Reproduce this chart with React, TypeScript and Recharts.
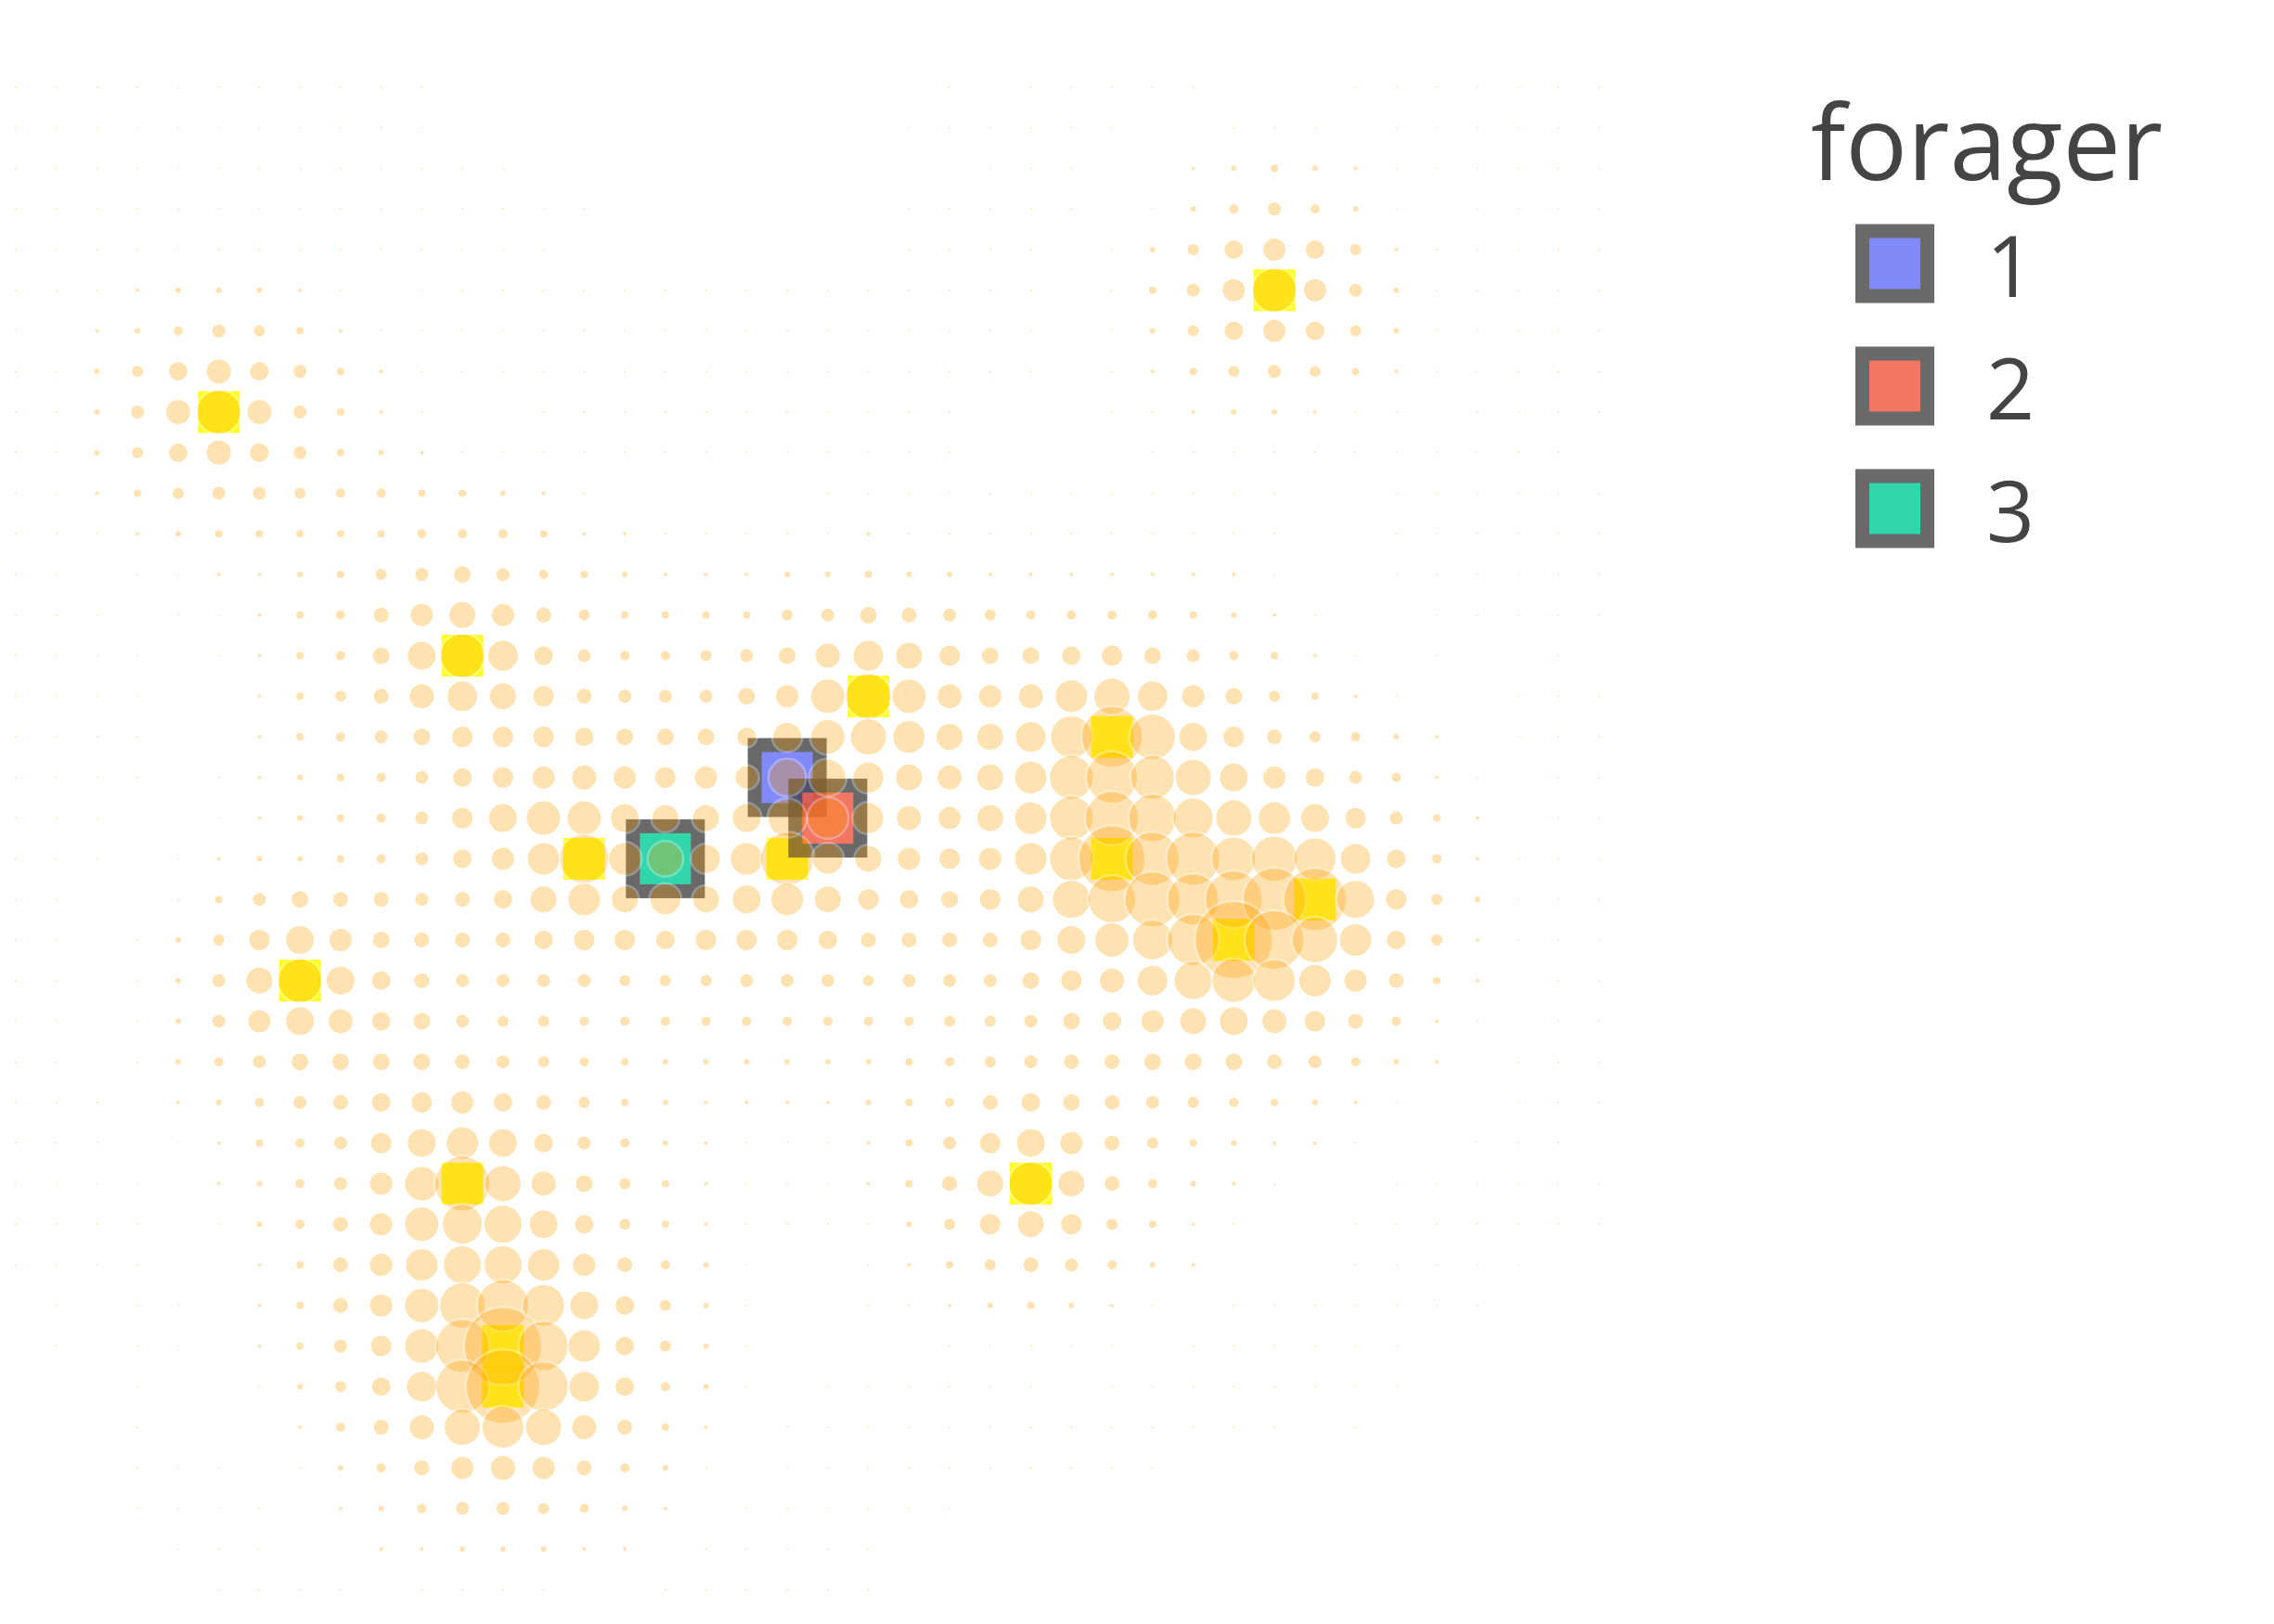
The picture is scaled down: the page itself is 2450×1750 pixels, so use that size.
import React from 'react';
import { ScatterChart, Scatter, XAxis, YAxis, Legend } from 'recharts';

// resource level of every grid cell: one string per grid row (top to bottom),
// one character per column (0-9, a-z, A-J), spaces only for readability
const LEVEL_DIGITS = '0123456789abcdefghijklmnopqrstuvwxyzABCDEFGHIJ';
const RESOURCE_ROWS = [
  '1111111111 1000000000 0001011111 0001111111',
  '1111111111 1000000000 0011111100 1110111111',
  '1111111111 1110000000 0000111002 3432111111',
  '1111111111 1111100000 0011111013 5753101111',
  '1111111111 1111000000 0011110136 aca6211111',
  '1112333210 1111111111 1111110147 cnc7311111',
  '1023576421 1111111111 1111110136 aca6311111',
  '1136ada742 1111111111 1111110124 6764211111',
  '1137dnd742 1001111111 1111000112 3321101111',
  '1136ada743 2111111111 1111000011 1111111110',
  '1124677655 4432100000 1111111111 1100111111',
  '1112344444 5554221111 1211111111 1100111111',
  '1101122346 7975432223 3433222222 2100111111',
  '1110112458 cec8644446 7987655554 3210011111',
  '1111012459 fnga755679 dgeb99ab97 5421010010',
  '1111002468 dgeb87779c ioidcdhjgc 9642100111',
  '1111002457 9bbba999af ijheegmwof b865320111',
  '1111012345 7abcdcbccj jgedehnrnj fca7521011',
  '1110012345 7bfiifeefk lgdcehnspl jhfb742011',
  '1110123345 7achqhifhs gecbchnzss nomga52111',
  '1100147988 78aehegefh eba9bekptr uxxkb63111',
  '110136bfc9 888abbabbb a8888bfilr Fvoha62111',
  '110137enfa 8777766677 767779bdgk nmhc842011',
  '110137cfda 9766555555 5556679ace fdb8521011',
  '1101357999 9876543333 3345678899 9875320111',
  '111023578a bca8643222 23458a9876 5432100111',
  '111012457b fhfa753211 1247bfc864 3221001110',
  '111102357c itjd964211 1248ene853 2100111111',
  '111101358c ilkfa64211 1136beb642 1001111111',
  '111100248c hkkhc85310 0124687532 0001111100',
  '010110248c iormfa6310 0112343210 1111111000',
  '010110247b isFqha6310 0001111101 1111100000',
  '000100136a gsDqga5310 1111110111 1111100000',
  '0001000258 djmjd84201 1111111111 1101000000',
  '0001110135 8cdc853101 1111111110 0000000000',
  '0001111023 5776532011 1111000000 0000000000',
  '0000111002 2333220111 1100000000 0000000000',
  '0000011110 1111001111 1100000000 0000000000',
];

// resource peaks (yellow squares)
const PEAK_COLS = [5, 31, 11, 21, 27, 14, 19, 27, 32, 30, 7, 11, 25, 12, 12];
const PEAK_ROWS = [8, 5, 14, 15, 16, 19, 19, 19, 20, 21, 22, 27, 27, 31, 32];

// foragers
const FORAGER_IDS = ['1', '2', '3'];
const FORAGER_COLS = [19, 20, 16];
const FORAGER_ROWS = [17, 18, 19];
const FORAGER_COLORS = ['#636efa', '#EF553B', '#00cc96'];

const cells = RESOURCE_ROWS.flatMap((line, row) =>
  line
    .replace(/ /g, '')
    .split('')
    .map((ch, col) => ({ col, row, level: LEVEL_DIGITS.indexOf(ch) }))
).filter((d) => d.level > 0);

const peaks = PEAK_COLS.map((col, i) => ({ col, row: PEAK_ROWS[i] }));

const FONT = "'Open Sans', 'Noto Sans', sans-serif";

const renderCell = (props: any) => {
  const { cx, cy, payload } = props;
  return (
    <circle
      cx={cx}
      cy={cy}
      r={payload.level + 1.25}
      fill="#FFA000"
      stroke="#ffffff"
      strokeWidth={2.5}
      opacity={0.3}
    />
  );
};

const renderPeak = (props: any) => {
  const { cx, cy } = props;
  return <rect x={cx - 22.5} y={cy - 22.5} width={45} height={45} fill="#FFFF00" opacity={0.85} />;
};

const makeForagerShape = (color: string) => (props: any) => {
  const { cx, cy } = props;
  return (
    <rect
      x={cx - 35}
      y={cy - 35}
      width={70}
      height={70}
      fill={color}
      stroke="#444444"
      strokeWidth={15}
      opacity={0.8}
    />
  );
};

const renderLegend = () => (
  <svg width={550} height={640}>
    <text x={51} y={194} fontSize={111} fill="#444444" fontFamily={FONT}>
      forager
    </text>
    {FORAGER_IDS.map((id, k) => {
      const cy = 284 + 132 * k;
      return (
        <g key={id}>
          <rect
            x={106.5}
            y={cy - 35}
            width={70}
            height={70}
            fill={FORAGER_COLORS[k]}
            stroke="#444444"
            strokeWidth={15}
            opacity={0.8}
          />
          <text x={240} y={cy + 36} fontSize={91} fill="#444444" fontFamily={FONT}>
            {id}
          </text>
        </g>
      );
    })}
  </svg>
);

export default function App() {
  return (
    <div style={{ position: 'absolute', left: 0, top: 0, width: 2450, height: 1750, background: '#ffffff' }}>
      <ScatterChart width={2450} height={1750} margin={{ top: 94, right: 727, bottom: 37, left: 17 }}>
        <XAxis type="number" dataKey="col" domain={[0, 39]} hide />
        <YAxis type="number" dataKey="row" domain={[0, 37]} reversed hide />
        <Scatter data={peaks} shape={renderPeak} legendType="none" isAnimationActive={false} />
        {FORAGER_IDS.map((id, k) => (
          <Scatter
            key={id}
            name={id}
            data={[{ col: FORAGER_COLS[k], row: FORAGER_ROWS[k] }]}
            fill={FORAGER_COLORS[k]}
            shape={makeForagerShape(FORAGER_COLORS[k])}
            isAnimationActive={false}
          />
        ))}
        <Scatter data={cells} shape={renderCell} legendType="none" isAnimationActive={false} />
        <Legend
          layout="vertical"
          align="center"
          verticalAlign="middle"
          content={renderLegend}
          wrapperStyle={{ left: 1900, top: 0, width: 550, height: 640 }}
        />
      </ScatterChart>
    </div>
  );
}
